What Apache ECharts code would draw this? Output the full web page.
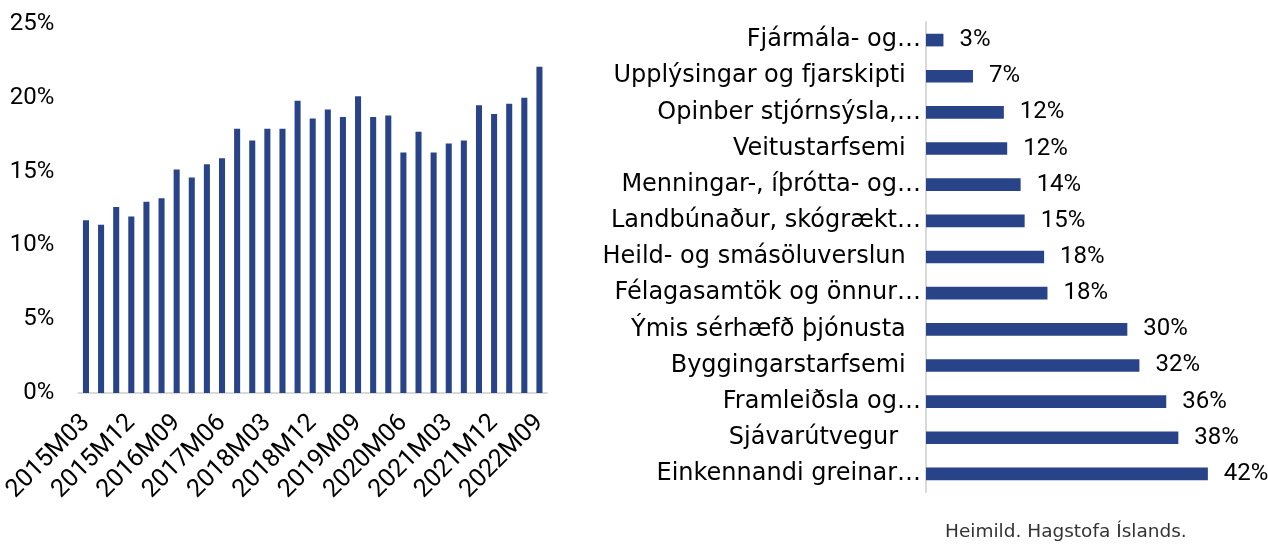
<!DOCTYPE html>
<html>
<head>
<meta charset="utf-8">
<script src="https://cdn.jsdelivr.net/npm/echarts@6/dist/echarts.min.js"></script>
<style>
html, body { margin: 0; padding: 0; background: #fff; }
#chart { width: 1268px; height: 545px; }
</style>
</head>
<body>
<div id="chart"></div>
<script>
// vinstri mynd: ársfjórðungar
var periods = [
    '2015M03','2015M06','2015M09','2015M12',
    '2016M03','2016M06','2016M09','2016M12',
    '2017M03','2017M06','2017M09','2017M12',
    '2018M03','2018M06','2018M09','2018M12',
    '2019M03','2019M06','2019M09','2019M12',
    '2020M03','2020M06','2020M09','2020M12',
    '2021M03','2021M06','2021M09','2021M12',
    '2022M03','2022M06','2022M09'
];
var shareValues = [
    11.7, 11.4, 12.6, 11.95,
    12.95, 13.2, 15.15, 14.6,
    15.5, 15.9, 17.9, 17.1,
    17.9, 17.9, 19.8, 18.6,
    19.2, 18.7, 20.1, 18.7,
    18.8, 16.3, 17.7, 16.3,
    16.9, 17.1, 19.5, 18.9,
    19.6, 20.0, 22.1
];
var leftTicks = [0, 5, 10, 15, 20, 25];

// hægri mynd: atvinnugreinar (ofan frá og niður)
var sectors = [
    'Fjármála- og…',
    'Upplýsingar og fjarskipti\u00a0\u00a0',
    'Opinber stjórnsýsla,…',
    'Veitustarfsemi\u00a0\u00a0',
    'Menningar-, íþrótta- og…',
    'Landbúnaður, skógrækt…',
    'Heild- og smásöluverslun\u00a0\u00a0',
    'Félagasamtök og önnur…',
    'Ýmis sérhæfð þjónusta\u00a0\u00a0',
    'Byggingarstarfsemi\u00a0\u00a0',
    'Framleiðsla og…',
    'Sjávarútvegur\u00a0\u00a0\u00a0',
    'Einkennandi greinar…'
];
var sectorValues = [2.6, 7.0, 11.6, 12.1, 14.1, 14.7, 17.6, 18.1, 30.0, 31.8, 35.8, 37.6, 42.0];

var sourceText = 'Heimild. Hagstofa Íslands.';

var barColor = '#284388';
var numFont = 'Roboto';
var catFont = 'DejaVu Sans';

var myChart = echarts.init(document.getElementById('chart'));

var option = {
    animation: false,
    grid: [
        { left: 76, top: 24, width: 471, height: 369 },
        { left: 926, top: 22, width: 302, height: 470 }
    ],
    xAxis: [
        {
            gridIndex: 0,
            type: 'category',
            data: periods,
            axisLine: { lineStyle: { color: '#d9d9d9', width: 2 } },
            axisTick: { show: false },
            axisLabel: {
                interval: 2,
                rotate: 45,
                margin: 26,
                color: '#000',
                fontFamily: numFont,
                fontSize: 25
            }
        },
        {
            gridIndex: 1,
            type: 'value',
            min: 0,
            max: 45,
            show: false
        }
    ],
    yAxis: [
        {
            gridIndex: 0,
            type: 'value',
            min: 0,
            max: 25,
            interval: 5,
            axisLine: { show: false },
            axisTick: { show: false },
            splitLine: { show: false },
            axisLabel: {
                margin: 24,
                color: '#000',
                fontFamily: numFont,
                fontSize: 24,
                formatter: function (v) { return leftTicks.indexOf(v) >= 0 ? v + '%' : ''; }
            }
        },
        {
            gridIndex: 1,
            type: 'category',
            inverse: true,
            data: sectors,
            axisLine: { lineStyle: { color: '#d9d9d9', width: 2 } },
            axisTick: { show: false },
            axisLabel: {
                margin: 5,
                color: '#000',
                fontFamily: catFont,
                fontSize: 24
            }
        }
    ],
    series: [
        {
            type: 'bar',
            xAxisIndex: 0,
            yAxisIndex: 0,
            data: shareValues,
            barWidth: '40%',
            itemStyle: { color: barColor }
        },
        {
            type: 'bar',
            xAxisIndex: 1,
            yAxisIndex: 1,
            data: sectorValues,
            barWidth: '35%',
            itemStyle: { color: barColor },
            label: {
                show: true,
                position: 'right',
                distance: 16,
                color: '#000',
                fontFamily: numFont,
                fontSize: 24,
                formatter: function (p) { return Math.round(p.value) + '%'; }
            }
        }
    ],
    graphic: [
        {
            type: 'text',
            left: 945,
            top: 523,
            style: {
                text: sourceText,
                fill: '#333',
                font: '18.5px "DejaVu Sans"'
            }
        }
    ]
};

myChart.setOption(option);
</script>
</body>
</html>
